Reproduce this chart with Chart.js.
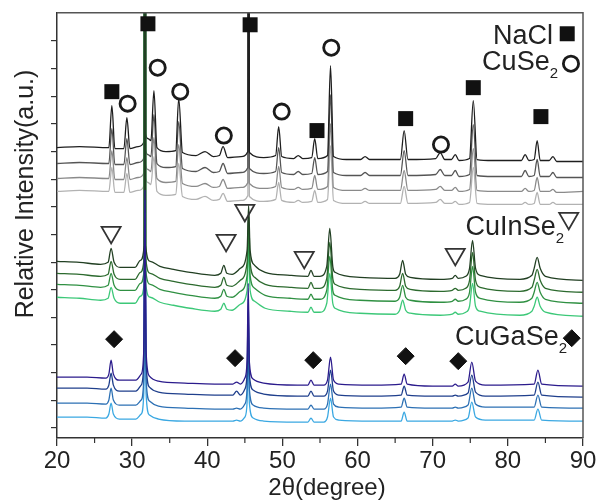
<!DOCTYPE html>
<html><head><meta charset="utf-8">
<script src="https://cdn.jsdelivr.net/npm/chart.js@4.4.1/dist/chart.umd.min.js"></script>
<style>html,body{margin:0;padding:0;background:#fff;overflow:hidden}</style>
</head><body>
<canvas id="c" width="602" height="502"></canvas>
<script>
// ---------- tick labels ----------
const xTickLabels = ['20','30','40','50','60','70','80','90'];
const yTicks = [10, 37.7, 65.4, 93.1, 120.8, 148.5, 176.2, 203.9, 231.6, 259.3, 287, 314.7, 342.4, 370.1, 397.8];

// ---------- CuSe2 / NaCl group (grey) ----------
const g1X = [20,23,26.9,27.3,27.7,28.9,29.3,29.7,30.8,31.6,31.7,31.8,32.1,32.5,32.9,33.3,34.5,35.8,36.2,36.7,38.5,39.7,40.8,41.6,42.1,42.7,44.5,45.4,45.5,45.6,47.5,49.1,49.5,49.9,51.5,52.1,52.7,53.9,54.3,54.7,56.0,56.4,56.8,58.5,60.4,61.0,61.6,65.7,66.2,66.7,70.4,71.0,71.6,72.5,73.0,73.5,74.9,75.4,75.9,78.0,81.8,82.3,82.8,83.5,83.9,84.3,85.5,86.0,86.5,90];
const g1a = [291,292,291,333,290,290,321,290,292,297,1500,305,300,298,348,291,287,288,340,286,283,287,282,283,292,281,282,287,1500,286,281,283,312,282,280,283,280,281,300,280,283,373,282,279,279,282,279,279,308,279,280,286,279,279,284,278,280,338,279,278,278,284,278,279,298,278,278,282,277,277];
const g1b = [275,276,275,310,274,274,300,274,276,281,1500,289,284,282,324,275,271,272,317,270,267,271,266,267,275,265,266,271,1500,270,265,267,291,266,264,267,264,265,281,264,267,344,266,263,263,266,263,263,288,263,264,269,263,263,268,262,264,314,263,262,262,268,262,263,279,262,262,266,261,261];
const g1c = [260,261,260,288,259,259,281,259,261,266,1500,274,269,267,301,260,256,257,294,255,252,255,251,252,259,250,251,256,1500,255,250,252,272,251,249,251,249,250,263,249,252,315,251,248,248,250,248,248,268,248,249,252,248,248,251,247,249,290,248,247,247,250,247,248,261,247,247,249,246,247];
const g1d = [247,248,247,271,246,246,265,246,248,253,1500,261,256,254,282,247,243,244,275,242,239,242,238,239,245,237,238,243,1500,242,237,239,256,238,236,238,236,237,248,236,239,293,238,235,235,237,235,235,252,235,236,239,235,235,237,234,236,271,235,234,234,236,234,235,246,234,234,236,234,234];

// ---------- CuInSe2 group (green) ----------
const g2X = [20,23,25.8,26.8,27.2,27.6,28.4,30.4,31.1,31.6,31.7,31.8,32.4,33.7,35.5,37.7,41.0,41.8,42.2,42.6,43.3,44.4,45.3,45.5,45.7,46.3,47.7,51.0,53.4,53.8,54.2,55.0,55.9,56.3,56.7,57.0,60.3,65.0,65.6,66.0,66.4,67.0,71.0,72.6,73.0,73.4,74.4,74.9,75.3,75.7,76.3,81.6,83.2,83.5,83.9,84.3,85.0,90];
const g2a = [177,176,174,176,190,176,171,171,178,193,1500,193,177,172,169,166,163,165,173,165,164,170,188,233,188,173,166,163,162,168,162,162,172,210,172,166,161,160,164,178,164,161,159,160,163,160,162,170,198,170,163,159,163,170,181,170,162,158];
const g2b = [165,164,162,164,177,164,159,159,166,181,1500,181,165,160,157,154,151,153,161,153,152,158,176,225,176,161,154,151,150,156,150,150,160,196,160,154,149,148,152,165,152,149,147,148,150,148,150,158,186,158,151,147,151,158,169,158,150,146];
const g2c = [154,153,151,153,165,153,148,148,155,169,1500,169,154,149,146,143,140,142,149,142,141,147,163,212,163,150,143,140,139,144,139,139,148,182,148,143,138,137,141,153,141,138,136,137,139,137,139,146,172,146,140,136,140,146,156,146,139,135];
const g2d = [141,140,138,140,151,140,135,135,142,155,1500,155,141,136,133,130,127,129,135,129,128,134,148,195,148,137,130,127,126,131,126,126,135,165,135,130,125,124,128,138,128,125,123,124,126,124,126,132,155,132,127,123,127,132,141,132,126,122];

// ---------- CuGaSe2 group (blue) ----------
const g3X = [20,24,26.5,26.9,27.2,27.5,28.3,30.5,31.2,31.55,31.7,31.85,32.3,33.5,37,41,43.4,43.9,44.4,45.0,45.3,45.45,45.6,46.1,47.5,52,53.4,53.8,54.2,55.5,56.0,56.4,56.8,57.5,62,65.8,66.2,66.6,70,72.6,73.0,73.4,74.7,75.2,75.7,77,83.5,84.0,84.5,90];
const g3a = [61,61,60,64,78,64,58,58,64,88,248,88,62,57,55,54,54,56,54,60,78,155,76,59,55,53,53,58,53,53,58,81,58,54,53,54,64,54,52,52,54,52,56,76,57,53,54,68,54,52];
const g3b = [50,50,49,53,65,53,47,47,53,76,238,76,51,46,44,43,43,47,43,49,66,140,64,48,44,42,42,47,42,42,47,68,47,43,42,43,52,43,42,42,43,42,45,63,46,42,43,56,43,41];
const g3c = [35,35,34,38,50,38,33,33,38,60,225,60,37,32,30,29,29,30,29,34,50,125,49,33,30,29,29,33,29,29,34,54,34,31,30,31,40,31,30,30,31,30,33,50,34,31,31,43,31,30];
const g3d = [21,21,20,24,35,24,19,19,24,45,210,45,23,19,17,17,17,18,17,21,36,110,35,20,17,16,16,20,16,16,21,40,21,18,17,17,26,17,17,17,18,17,20,36,21,18,18,29,18,17];

// ---------- phase markers ----------
const naclX = [27.3,32.1,45.7,54.6,66.4,75.4,84.4,87.9];
const naclY = [347,415,414,308,320,351,322,405];
const cuse2X = [29.4,33.4,36.4,42.2,49.9,56.5,71.1,88.4];
const cuse2Y = [335,371,347,303,327,391,294,375];
const cuinX = [27.2,42.5,45.0,52.9,73.0,88.1];
const cuinY = [206,198,228,181,184,220];
const cugaX = [27.6,43.7,54.1,66.4,73.4,88.5];
const cugaY = [99,80,78,82,77,100];

const FONT = '"Liberation Sans", Arial, sans-serif';
const pts = (xs, ys) => xs.map((x, i) => ({x: x, y: ys[i]}));
const trace = (xs, ys, color) => ({
  data: pts(xs, ys), borderColor: color, borderWidth: 1.3, pointRadius: 0,
  fill: false, cubicInterpolationMode: 'monotone'
});
const marker = (xs, ys, o) => Object.assign({type: 'scatter', data: pts(xs, ys), clip: false}, o);

const decor = {
  id: 'decor',
  afterDraw(chart) {
    const {ctx, chartArea: a, scales: {x}} = chart;
    ctx.save();
    ctx.strokeStyle = '#555'; ctx.lineWidth = 1.5;
    ctx.beginPath(); ctx.moveTo(a.left, a.top); ctx.lineTo(a.right, a.top); ctx.lineTo(a.right, a.bottom); ctx.stroke();
    ctx.strokeStyle = '#333'; ctx.lineWidth = 1.2;
    x.ticks.forEach(t => {
      if (Math.round(t.value) % 10 !== 0) {
        const px = x.getPixelForValue(t.value);
        ctx.beginPath(); ctx.moveTo(px, a.bottom); ctx.lineTo(px, a.bottom + 5); ctx.stroke();
      }
    });
    ctx.fillStyle = '#222';
    ctx.font = '24px ' + FONT; ctx.textAlign = 'center'; ctx.textBaseline = 'middle';
    ctx.fillText('2\u03b8(degree)', 327, 488);
    ctx.save(); ctx.translate(33, 194); ctx.rotate(-Math.PI / 2);
    ctx.font = '25px ' + FONT; ctx.textBaseline = 'alphabetic'; ctx.textAlign = 'center';
    ctx.fillText('Relative Intensity(a.u.)', 0, 0); ctx.restore();
    const lab = (main, sub, right, base) => {
      ctx.textBaseline = 'alphabetic'; ctx.textAlign = 'right';
      let r = right;
      if (sub) { ctx.font = '15px ' + FONT; ctx.fillText(sub, r, base + 8); r -= ctx.measureText(sub).width; }
      ctx.font = '27px ' + FONT; ctx.fillText(main, r, base);
    };
    lab('NaCl', '', 553, 44);
    lab('CuSe', '2', 558, 70);
    lab('CuInSe', '2', 564, 235);
    lab('CuGaSe', '2', 567, 345);
    ctx.restore();
  }
};

new Chart(document.getElementById('c'), {
  type: 'line',
  data: { datasets: [
    marker(naclX, naclY, {pointStyle: 'rect', pointRadius: 10.6, backgroundColor: '#111', borderColor: '#111', borderWidth: 0}),
    marker(cuse2X, cuse2Y, {pointStyle: 'circle', pointRadius: 7.6, backgroundColor: '#fff', borderColor: '#1a1a1a', borderWidth: 2.8}),
    marker(cuinX, cuinY, {pointStyle: 'triangle', pointRotation: 180, pointRadius: 11, backgroundColor: 'rgba(255,255,255,0)', borderColor: '#333', borderWidth: 1.8}),
    marker(cugaX, cugaY, {pointStyle: 'rectRot', pointRadius: 8.5, backgroundColor: '#111', borderColor: '#111', borderWidth: 1}),
    trace(g3X, g3a, '#2b1b8c'),
    trace(g3X, g3b, '#1f3f8c'),
    trace(g3X, g3c, '#2c70b4'),
    trace(g3X, g3d, '#3aa8e2'),
    trace(g2X, g2a, '#213f22'),
    trace(g2X, g2b, '#2c6a2e'),
    trace(g2X, g2c, '#2f9042'),
    trace(g2X, g2d, '#3cc878'),
    trace(g1X, g1a, '#1e1e1e'),
    trace(g1X, g1b, '#555555'),
    trace(g1X, g1c, '#8a8a8a'),
    trace(g1X, g1d, '#b2b2b2')
  ]},
  options: {
    responsive: false, animation: false, events: [],
    layout: {padding: {left: 0, right: 19, top: 12, bottom: 0}},
    plugins: {legend: {display: false}, tooltip: {enabled: false}},
    scales: {
      x: {
        type: 'linear', min: 20, max: 90,
        afterFit(s) { s.height = 64; },
        ticks: {stepSize: 5, autoSkip: false, maxRotation: 0, padding: 1, color: '#222',
          font: {family: FONT, size: 24},
          callback: v => { const r = Math.round(v); return r % 10 === 0 ? xTickLabels[(r - 20) / 10] : ''; }},
        grid: {drawOnChartArea: false, drawTicks: true, tickLength: 8, lineWidth: 1.3,
          color: c => (c.tick && Math.round(c.tick.value) % 10 === 0) ? '#333' : 'rgba(0,0,0,0)'},
        border: {display: true, color: '#333', width: 1.5}
      },
      y: {
        type: 'linear', min: 0, max: 426,
        afterFit(s) { s.width = 57; },
        afterBuildTicks(s) { s.ticks = yTicks.map(v => ({value: v})); },
        ticks: {display: false},
        grid: {drawOnChartArea: false, drawTicks: true, tickLength: 6, color: '#333', lineWidth: 1.2},
        border: {display: true, color: '#333', width: 1.5}
      }
    }
  },
  plugins: [decor]
});
</script>
</body></html>
